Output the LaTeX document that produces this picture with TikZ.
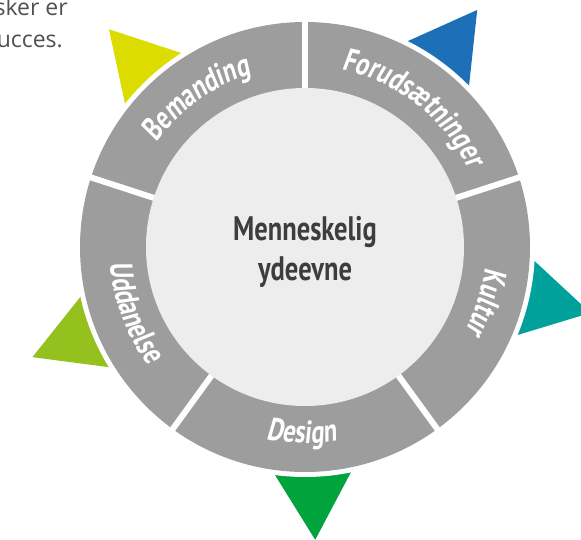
\documentclass[tikz,border=0pt]{standalone}
\usepackage{fontspec}
\usetikzlibrary{decorations.text}
\newfontfamily\ringfont[FakeStretch=0.77,FakeSlant=0.12]{PT Sans Bold}
\newfontfamily\hubfont[FakeStretch=0.78]{PT Sans Bold}
\newfontfamily\notefont{Open Sans}
\definecolor{ringgray}{HTML}{9D9D9D}
\definecolor{hubgray}{HTML}{EDEDED}
\definecolor{hubink}{HTML}{3D3D3D}
\definecolor{noteink}{HTML}{505050}
\definecolor{yellowtip}{HTML}{DCDC00}
\definecolor{bluetip}{HTML}{1D70B8}
\definecolor{tealtip}{HTML}{00A19A}
\definecolor{greentip}{HTML}{00A33C}
\definecolor{limetip}{HTML}{95C11F}
\tikzset{
  gapline/.style={white, line width=6pt},
  ringlabel/.style={decorate, decoration={text along path, text align=center,
      text color=white, text={|\ringfont\fontsize{32}{32}\selectfont|#1}}},
  hubtext/.style={text=hubink, align=center, inner sep=0pt,
      font=\hubfont\fontsize{34}{40}\selectfont},
  notetext/.style={text=noteink, inner sep=0pt, font=\notefont\fontsize{23}{23}\selectfont},
}
\begin{document}
\begin{tikzpicture}[x=1pt, y=1pt]
\useasboundingbox (0,0) rectangle (581,539);
\clip (0,0) rectangle (581,539);
\node[notetext, anchor=base east] (note1) at (68,523) {sker er};
\node[notetext, anchor=base east] (note2) at (63,491) {ucces.};
\begin{scope}[shift={(305,292)}]
\coordinate (hub) at (0,0);
\fill[yellowtip] (132:293pt) -- (122.3:229pt) -- (141.7:229pt) -- cycle;
\fill[bluetip]   (54:293pt)  -- (44.3:229pt)  -- (63.7:229pt)  -- cycle;
\fill[tealtip]   (-13:293pt) -- (-22.7:229pt) -- (-3.3:229pt)  -- cycle;
\fill[greentip]  (-88:293pt) -- (-97.7:229pt) -- (-78.3:229pt) -- cycle;
\fill[limetip]   (202:294pt) -- (192.3:229pt) -- (211.7:229pt) -- cycle;
\fill[white] (hub) circle[radius=230pt];
\fill[ringgray] (hub) circle[radius=225pt];
\draw[gapline] (hub) -- (90:228pt);
\draw[gapline] (hub) -- (18:228pt);
\draw[gapline] (hub) -- (-54:228pt);
\draw[gapline] (hub) -- (-126:228pt);
\draw[gapline] (hub) -- (162:228pt);
\fill[hubgray] (hub) circle[radius=159pt];
\path[ringlabel=Bemanding] (166:181pt) arc[start angle=166, end angle=86, radius=181pt];
\path[ringlabel=Forudsætninger] (97:181pt) arc[start angle=97, end angle=7, radius=181pt];
\path[ringlabel=Kultur] (23:181pt) arc[start angle=23, end angle=-57, radius=181pt];
\path[ringlabel=Design] (-131:196pt) arc[start angle=-131, end angle=-51, radius=196pt];
\path[ringlabel=Uddanelse] (161:196pt) arc[start angle=161, end angle=241, radius=196pt];
\node[hubtext] (hubtitle) at (0,-5) {Menneskelig\\ydeevne};
\end{scope}
\end{tikzpicture}
\end{document}
